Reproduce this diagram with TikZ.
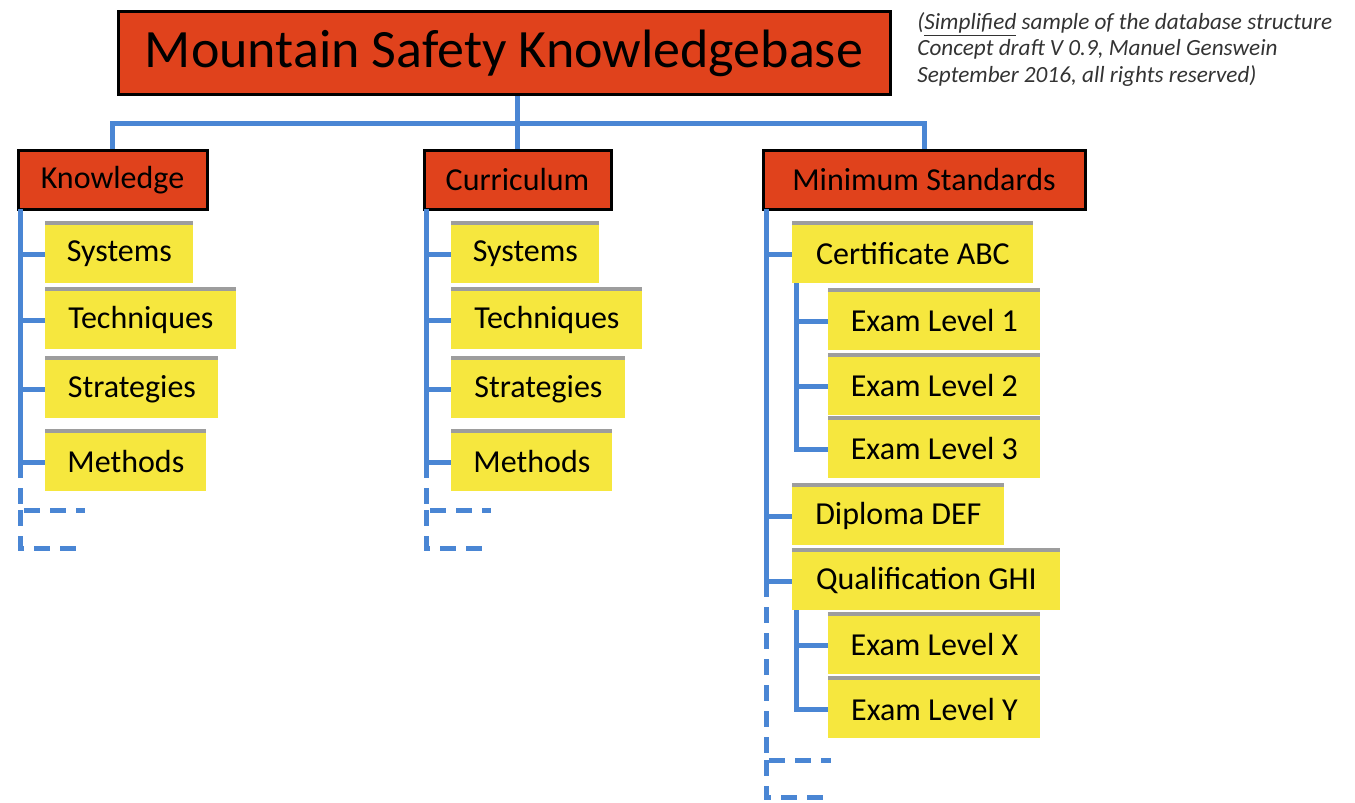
\documentclass[tikz,border=0pt]{standalone}
\usepackage{fontspec}
\setmainfont{Carlito}
\usetikzlibrary{shadows}
\definecolor{boxred}{RGB}{224,66,28}
\definecolor{boxyellow}{RGB}{246,231,62}
\definecolor{linkblue}{RGB}{74,134,212}
\tikzstyle{topbox}=[draw=black,line width=1.5pt,fill=boxred,inner sep=0pt,minimum height=41.5pt,font=\fontsize{27}{31}\selectfont]
\tikzstyle{headbox}=[draw=black,line width=1.5pt,fill=boxred,inner sep=0pt,minimum height=29.5pt,font=\fontsize{16}{19}\selectfont]
\tikzstyle{item}=[fill=boxyellow,inner sep=0pt,minimum height=29pt,anchor=west,font=\fontsize{16}{19}\selectfont,
  drop shadow={shadow xshift=0pt,shadow yshift=2pt,fill=black!55,opacity=0.7}]
\tikzstyle{link} = [draw=linkblue,line width=2.5pt]
\tikzstyle{more} = [link,dash pattern=on 8pt off 5pt]

\begin{document}
\begin{tikzpicture}[x=0.5pt,y=-0.5pt]
				\useasboundingbox (0,0) rectangle (1355,803);

				% Draw the boxes
				\node[topbox,minimum width=386pt] (msk) at (504,53) {Mountain Safety Knowledgebase};
				\node[anchor=north west,align=left,inner sep=0pt,text=black!80,font=\itshape\fontsize{11.6}{13.2}\selectfont] (note) at (917,12)
					{(\underline{Simplified} sample of the database structure\\Concept draft V 0.9, Manuel Genswein\\September 2016, all rights reserved)};
				\node[headbox,minimum width=94.5pt] (kn) at (112.5,180) {Knowledge};
				\node[headbox,minimum width=93.5pt] (cu) at (517.5,180) {Curriculum};
				\node[headbox,minimum width=161pt] (ms) at (924,180) {Minimum Standards};

				\foreach \x/\y/\w/\name/\text in {45/254/74/k1/Systems, 45/320/95.5/k2/Techniques, 45/389/86.5/k3/Strategies, 45/462/80.5/k4/Methods,
					451/254/74/c1/Systems, 451/320/95.5/c2/Techniques, 451/389/87/c3/Strategies, 451/462/80.5/c4/Methods,
					792/254/120.5/m1/Certificate ABC, 828/321/106/e1/Exam Level 1, 828/386/106/e2/Exam Level 2, 828/449/106/e3/Exam Level 3,
					792/516/106/m2/Diploma DEF, 792/581/134/m3/Qualification GHI, 828/645/106/ex/Exam Level X, 828/709/106/ey/Exam Level Y}
				\node[item,minimum width=\w pt] (\name) at (\x,\y) {\text};

				% Connect the top box with the headings
				\draw[link] (msk.south -| cu.north) -- ++(0,27) coordinate (hub);
				\draw[link] (kn.north) |- (hub) -| (ms.north);
				\draw[link] (hub) -- (cu.north);

				% Connect the items
				\coordinate (kbar) at (20,209);
				\coordinate (cbar) at (426,209);
				\coordinate (mbar) at (766,209);
				\coordinate (abar) at (796,283);
				\coordinate (qbar) at (796,610);
				\draw[link] (kbar) |- (k4.west);
				\draw[link] (cbar) |- (c4.west);
				\draw[link] (mbar) |- (m3.west);
				\draw[link] (abar) |- (e3.west);
				\draw[link] (qbar) |- (ey.west);
				\foreach \name/\bar in {k1/kbar, k2/kbar, k3/kbar, c1/cbar, c2/cbar, c3/cbar, m1/mbar, m2/mbar, e1/abar, e2/abar, ex/qbar}
				\draw[link] (\name.west) -- (\name.west -| \bar);

				% Open ends
				\foreach \bar/\last/\ya/\yb in {kbar/k4/510/548, cbar/c4/510/548, mbar/m3/760/797}{
					\coordinate (d1) at ([xshift=32.5pt]\bar |- 0,\ya);
					\coordinate (d2) at ([xshift=32.5pt]\bar |- 0,\yb);
					\draw[more] (\last.west -| \bar) |- (d1);
					\draw[more] (d1 -| \bar) |- (d2);
				}
			\end{tikzpicture}
\end{document}
